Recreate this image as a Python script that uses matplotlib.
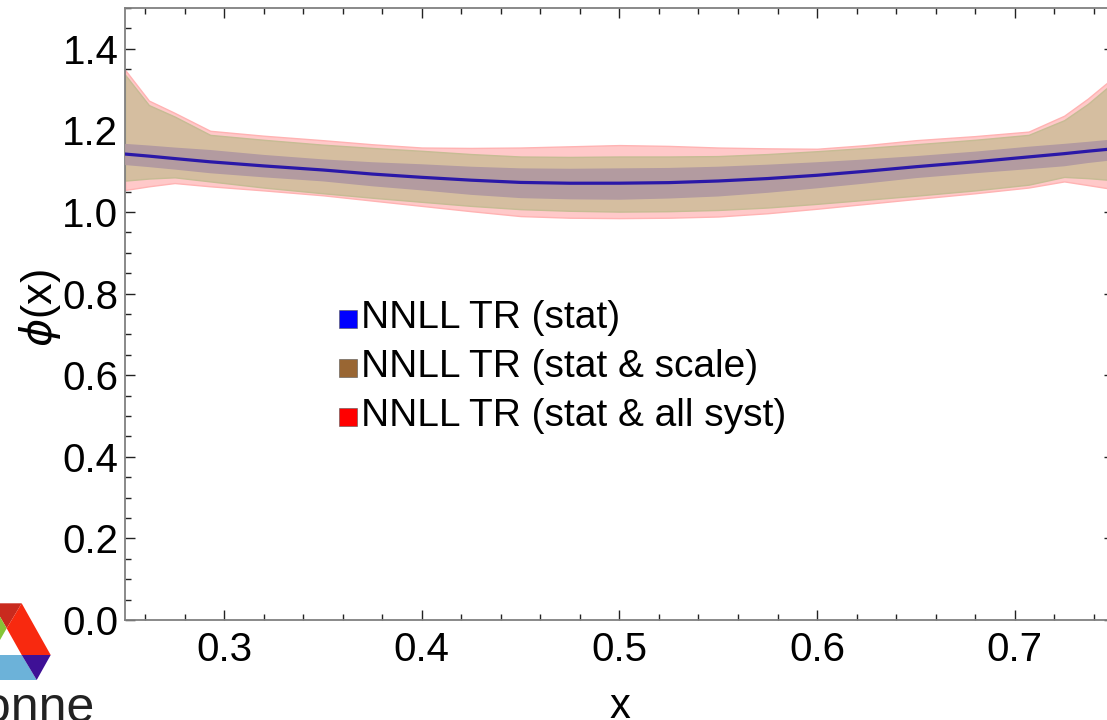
import matplotlib
matplotlib.use("Agg")
import matplotlib.pyplot as plt
from matplotlib.patches import Polygon, Rectangle
from matplotlib.ticker import MultipleLocator

plt.rcParams['font.family'] = ['Liberation Sans', 'DejaVu Sans']

# ---- data ----
x_grid = [0.25, 0.262, 0.275, 0.293, 0.32, 0.35, 0.375, 0.40, 0.425, 0.45, 0.475, 0.50, 0.525,
          0.55, 0.575, 0.60, 0.625, 0.65, 0.68, 0.707, 0.725, 0.737, 0.75]
central = [1.142, 1.137, 1.131, 1.123, 1.113, 1.103, 1.093, 1.085, 1.078, 1.0725, 1.0705, 1.0706, 1.072,
           1.076, 1.082, 1.090, 1.100, 1.111, 1.123, 1.135, 1.143, 1.149, 1.155]
stat_hi = [1.167, 1.163, 1.158, 1.152, 1.140, 1.129, 1.122, 1.117, 1.111, 1.107, 1.106, 1.107, 1.108,
           1.111, 1.116, 1.122, 1.129, 1.137, 1.148, 1.160, 1.167, 1.172, 1.178]
stat_lo = [1.115, 1.110, 1.104, 1.095, 1.085, 1.075, 1.063, 1.053, 1.042, 1.034, 1.031, 1.030, 1.033,
           1.038, 1.047, 1.058, 1.070, 1.083, 1.095, 1.105, 1.112, 1.120, 1.127]
scale_hi = [1.336, 1.262, 1.234, 1.189, 1.177, 1.165, 1.157, 1.150, 1.142, 1.136, 1.135, 1.136, 1.136,
            1.137, 1.142, 1.149, 1.157, 1.166, 1.177, 1.189, 1.225, 1.265, 1.318]
scale_lo = [1.077, 1.082, 1.085, 1.075, 1.060, 1.046, 1.035, 1.025, 1.015, 1.007, 1.003, 1.001, 1.002,
            1.005, 1.011, 1.020, 1.030, 1.040, 1.053, 1.067, 1.086, 1.083, 1.078]
all_hi = [1.348, 1.273, 1.243, 1.199, 1.187, 1.176, 1.166, 1.158, 1.157, 1.158, 1.161, 1.164, 1.162,
          1.158, 1.156, 1.155, 1.164, 1.176, 1.186, 1.197, 1.236, 1.278, 1.330]
all_lo = [1.054, 1.063, 1.071, 1.063, 1.053, 1.041, 1.028, 1.015, 1.002, 0.990, 0.986, 0.985, 0.986,
          0.989, 0.997, 1.008, 1.020, 1.032, 1.046, 1.060, 1.075, 1.066, 1.056]

legend_labels = ["NNLL TR (stat)", "NNLL TR (stat & scale)", "NNLL TR (stat & all syst)"]
legend_colors = ["#0000FF", "#996633", "#FF0000"]

x_ticks = [0.3, 0.4, 0.5, 0.6, 0.7]
y_ticks = [0.0, 0.2, 0.4, 0.6, 0.8, 1.0, 1.2, 1.4]

W, H = 1107, 720
fig = plt.figure(figsize=(W / 100, H / 100), dpi=100)

def fx(px):
    return px / W

def fy(py):
    return 1 - py / H

ax = fig.add_axes([fx(125.2), fy(620), (1113.6 - 125.2) / W, (620 - 8) / H])
ax.set_xlim(0.25, 0.75)
ax.set_ylim(0.0, 1.5)

ax.fill_between(x_grid, all_lo, all_hi, facecolor="#FFC9C9", edgecolor="#FFB3B3", linewidth=1.0, zorder=1)
ax.fill_between(x_grid, scale_lo, scale_hi, facecolor="#D5BEA0", edgecolor="#C6BC94", linewidth=1.0, zorder=2)
ax.fill_between(x_grid, stat_lo, stat_hi, facecolor="#B39BA0", edgecolor="none", zorder=3)
ax.plot(x_grid, central, color="#2A18A8", linewidth=2.3, zorder=4)

ax.set_xticks(x_ticks)
ax.set_yticks(y_ticks)
ax.set_xticklabels([f"{v:.1f}" for v in x_ticks])
ax.set_yticklabels([f"{v:.1f}" for v in y_ticks])
ax.xaxis.set_minor_locator(MultipleLocator(0.02))
ax.yaxis.set_minor_locator(MultipleLocator(0.05))
ax.tick_params(which="both", direction="in", top=True, right=True, color="#222222", width=1.0)
ax.tick_params(which="major", length=7.5, labelsize=29)
ax.tick_params(which="minor", length=4.3)
ax.tick_params(axis="x", which="major", pad=8)
ax.tick_params(axis="y", which="major", pad=5)
for s in ax.spines.values():
    s.set_color("#808080")
    s.set_linewidth(1.3)

# axis labels
fig.text(fx(620), fy(707), "x", fontsize=30, ha="center", va="center")
fig.text(fx(40), fy(308), r"$\phi$(x)", fontsize=31, ha="center", va="center", rotation=90)

# legend drawn manually
rows_y = [319, 368, 417]
for lab, col, ry in zip(legend_labels, legend_colors, rows_y):
    fig.patches.append(Rectangle((fx(339), fy(ry + 9)), 18 / W, 18 / H, transform=fig.transFigure,
                                 facecolor=col, edgecolor="#555555", linewidth=0.4))
    fig.text(fx(361), fy(ry + 9), lab, fontsize=28, ha="left", va="baseline")

# logo (partially cropped, bottom-left)
logo = [
    ([(0, 603.3), (21.7, 603.3), (6.7, 628.3), (0, 616.7)], "#C92A1E"),
    ([(0, 616.7), (6.7, 628.3), (0, 640)], "#86C537"),
    ([(21.7, 603.3), (50.7, 655), (21.7, 655), (6.7, 628.3)], "#F8290F"),
    ([(0, 655), (21.7, 655), (36.7, 680), (0, 680)], "#6CB2D9"),
    ([(21.7, 655), (50.7, 655), (36.7, 680)], "#3E1096"),
]
for pts, col in logo:
    fig.patches.append(Polygon([(fx(a), fy(b)) for a, b in pts], closed=True, transform=fig.transFigure,
                               facecolor=col, edgecolor="none"))
fig.text(fx(95), fy(722), "Argonne", fontsize=36, ha="right", va="baseline", color="#222222")

fig.savefig("out.png", dpi=100)
